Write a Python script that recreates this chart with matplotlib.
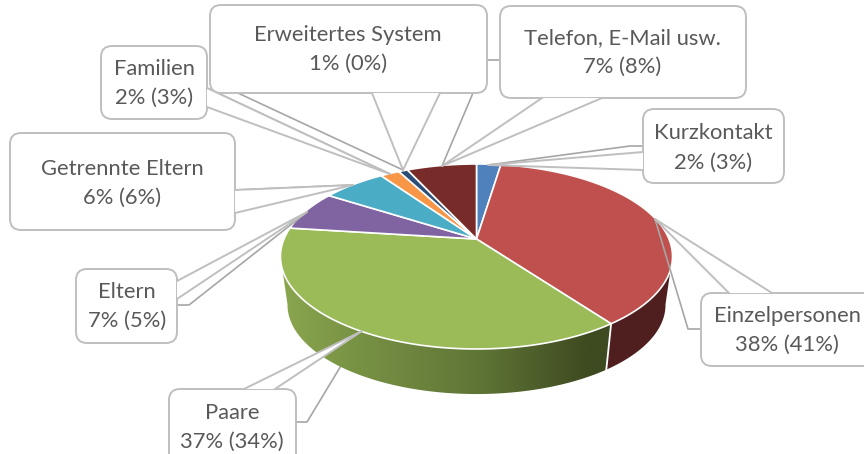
import numpy as np
import matplotlib
matplotlib.use('Agg')
import matplotlib.pyplot as plt
from matplotlib.patches import FancyBboxPatch, Polygon
from matplotlib.colors import LinearSegmentedColormap

names = ['Kurzkontakt', 'Einzelpersonen', 'Paare', 'Eltern', 'Getrennte Eltern',
         'Familien', 'Erweitertes System', 'Telefon, E-Mail usw.']
shares = [2.4, 37.5, 37.1, 7.0, 6.3, 1.9, 0.9, 6.9]
pct_now = [2, 38, 37, 7, 6, 2, 1, 7]
pct_before = [3, 41, 34, 5, 6, 3, 0, 8]
colors = ['#4f81bd', '#c0504d', '#9bbb59', '#8064a2', '#4bacc6', '#f79646', '#2c4d75', '#772c2a']

# callout layout in pixels: box (x0, y0, x1, y1), pointer base, tip, leader line
boxes = [(643, 109, 784, 183), (701, 293, 880, 366), (169, 389, 296, 465), (76, 269, 177, 343),
         (10, 133, 235, 230), (101, 46, 207, 119), (210, 5, 487, 93), (500, 6, 746, 98)]
bases = [((643, 152), (643, 170)), ((729, 293), (772, 293)), ((244, 389), (275, 389)),
         ((177, 281), (177, 299)), ((235, 190), (235, 213)), ((207, 88), (207, 107)),
         ((372, 93), (440, 93)), ((542, 98), (602, 98))]
tips = [(488, 165), (655, 219), (362, 331), (307, 212), (353, 185), (390, 174), (403, 170), (442, 166)]
leaders = [[(643, 146), (630, 146)], [(701, 329), (688, 329)], [(296, 422), (307, 422)],
           [(177, 305), (189, 305)], [(235, 190), (235, 190)], [(207, 88), (207, 88)],
           [(210, 80), (210, 80)], [(500, 60), (487, 60)]]
text_y = [(133, 163), (316, 345), (413, 442), (292, 321), (169, 198), (69, 98), (35, 64), (38, 67)]
text_x = [713, 787, 232, 127, 122, 154, 348, 622]

CX, CY = 476.5, 239
K = 0.189
WALL_FROM, WALL_TO = np.radians(100.6), np.radians(259.4)


def project(theta, r=192.5, s=89.2, cy=CY):
    # tilted circle seen in perspective, theta clockwise from 12 o'clock
    u, v = np.sin(theta), np.cos(theta)
    d = 1 + K * v
    return CX + r * u / d, cy - s * v / d


fig = plt.figure(figsize=(8.64, 4.54), dpi=100)
ax = fig.add_axes([0, 0, 1, 1])
ax.axis('off')

edges = np.radians(np.concatenate([[0], np.cumsum(shares)]) * 3.6)

# leader lines: the Paare one goes behind the wall, the others lie on top of the pie
for name, tip, leader in zip(names, tips, leaders):
    pts = leader + [tip]
    ax.plot([p[0] for p in pts], [p[1] for p in pts], color='#a6a6a6', lw=1.2,
            zorder=1 if name == 'Paare' else 4.5)

# side wall, only between the two silhouette angles
for i in range(len(shares)):
    start = max(edges[i], WALL_FROM)
    end = min(edges[i + 1], WALL_TO)
    if start >= end:
        continue
    t = np.linspace(start, end, 80)
    xt, yt = project(t)
    xb, yb = project(t, r=185.6, s=86, cy=288)
    poly = np.column_stack([np.r_[xt, xb[::-1]], np.r_[yt, yb[::-1]]])
    if names[i] == 'Paare':
        cmap = LinearSegmentedColormap.from_list('wall', [(0, '#8aa64f'), (0.2, '#7a9445'), (0.6, '#5f7536'),
                                                          (0.93, '#3e4a20'), (1, '#3e4a20')])
        grad = np.linspace(0, 1, 256).reshape(1, -1)
        img = ax.imshow(grad, extent=(282, 612, 400, 230), cmap=cmap, aspect='auto', zorder=2)
        patch = Polygon(poly, closed=True, transform=ax.transData, fc='none', ec='none')
        ax.add_patch(patch)
        img.set_clip_path(patch)
    else:
        ax.add_patch(Polygon(poly, closed=True, fc='#4e1f1e', ec='none', zorder=2))

# white seam between the two visible wall parts
xs, ys = project(edges[2])
xs2, ys2 = project(edges[2], r=185.6, s=86, cy=288)
ax.plot([xs, xs2], [ys, ys2], color='white', lw=1.3, zorder=3)

# top face
for i in range(len(shares)):
    t = np.linspace(edges[i], edges[i + 1], 120)
    xt, yt = project(t)
    poly = np.column_stack([np.r_[CX, xt], np.r_[CY, yt]])
    ax.add_patch(Polygon(poly, closed=True, fc=colors[i], ec='white', lw=1.2, joinstyle='round', zorder=4))

# callouts
for i, name in enumerate(names):
    x0, y0, x1, y1 = boxes[i]
    ax.add_patch(FancyBboxPatch((x0, y0), x1 - x0, y1 - y0, boxstyle='round,pad=0,rounding_size=11',
                                fc='white', ec='#bfbfbf', lw=1.4, zorder=5))
    b1, b2 = bases[i]
    ax.add_patch(Polygon([b1, tips[i], b2], closed=True, fc='white', ec='none', zorder=6))
    ax.plot([b1[0], tips[i][0], b2[0]], [b1[1], tips[i][1], b2[1]], color='#bfbfbf', lw=1.4, zorder=7)
    ax.text(text_x[i], text_y[i][0], name, ha='center', va='center', color='#595959',
            family='Lato', fontsize=15.8, zorder=8)
    ax.text(text_x[i], text_y[i][1], '%d%% (%d%%)' % (pct_now[i], pct_before[i]), ha='center', va='center',
            color='#595959', family='Lato', fontsize=15.8, zorder=8)

ax.set_xlim(0, 864)
ax.set_ylim(454, 0)
fig.savefig('out.png', dpi=100)
